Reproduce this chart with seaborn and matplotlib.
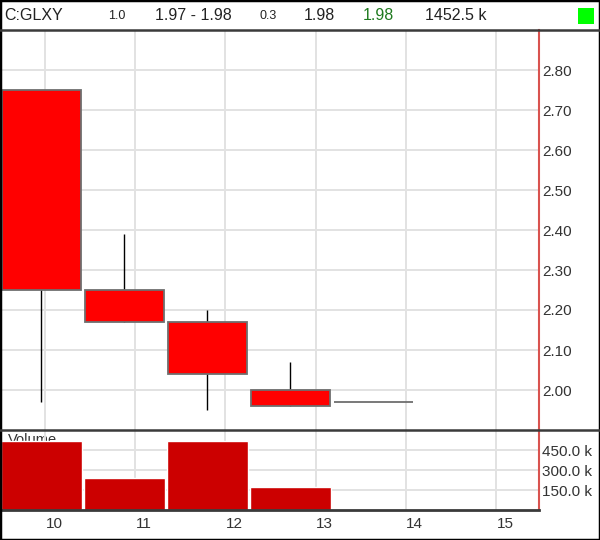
import matplotlib
matplotlib.use('Agg')
import matplotlib.pyplot as plt
import matplotlib.transforms as mtransforms
from matplotlib.lines import Line2D
from matplotlib.patches import Rectangle
from matplotlib.ticker import FuncFormatter
import seaborn as sns
import pandas as pd

# candle positions (day axis) and OHLC / volume values
days = [9.96, 10.88, 11.80, 12.72, 13.64]
opens = [2.75, 2.25, 2.17, 2.00, 1.97]
highs = [2.75, 2.39, 2.20, 2.07, 1.97]
lows = [1.97, 2.17, 1.95, 1.96, 1.97]
closes = [2.25, 2.17, 2.04, 1.96, 1.97]
volumes = [517500, 242000, 517500, 175500, 0]

day_ticks = [10, 11, 12, 13, 14, 15]
price_ticks = [2.00, 2.10, 2.20, 2.30, 2.40, 2.50, 2.60, 2.70, 2.80]
volume_ticks = [150000, 300000, 450000]

ticker = 'C:GLXY'
change = '1.0'
day_range = '1.97 - 1.98'
pct = '0.3'
last = '1.98'
close_val = '1.98'
total_volume = '1452.5 k'

W, H = 600, 540

sns.set_style('whitegrid')
plt.rcParams['font.family'] = ['Liberation Sans', 'DejaVu Sans']

df = pd.DataFrame({'day': days, 'open': opens, 'high': highs, 'low': lows,
                   'close': closes, 'volume': volumes})

fig = plt.figure(figsize=(W / 100, H / 100), dpi=100)
fig.patch.set_facecolor('white')

ax_price = fig.add_axes([1 / W, 1 - 430 / H, 538 / W, 400 / H])
ax_vol = fig.add_axes([1 / W, 1 - 510 / H, 538 / W, 80 / H], sharex=ax_price)

grid_kw = dict(color='#e2e2e2', linewidth=1.4)
for ax in (ax_price, ax_vol):
    ax.set_facecolor('white')
    ax.grid(True, **grid_kw)
    ax.set_axisbelow(True)
    for side in ('left', 'top', 'bottom'):
        ax.spines[side].set_visible(False)
    ax.spines['right'].set_visible(True)
    ax.spines['right'].set_color('#d9534f')
    ax.spines['right'].set_linewidth(1.5)

# candles
body_bottom = df[['open', 'close']].min(axis=1)
body_height = (df['open'] - df['close']).abs()
body_colors = ['#ff0000' if c <= o else '#00c000' for o, c in zip(df['open'], df['close'])]
ax_price.vlines(df['day'], df['low'], df['high'], color='black', linewidth=1, zorder=2)
ax_price.bar(df['day'], body_height, bottom=body_bottom, width=0.876,
             color=body_colors, edgecolor='#6e6e6e', linewidth=1.3, zorder=3)

ax_price.set_ylim(1.90, 2.90)
ax_price.set_yticks(price_ticks)
ax_price.yaxis.tick_right()
ax_price.yaxis.set_major_formatter(FuncFormatter(lambda v, p: f'{v:.2f}'))
ax_price.tick_params(axis='y', length=0, pad=2.5, labelsize=11, labelcolor='#333333')
ax_price.tick_params(axis='x', length=0, labelbottom=False)

# volume
ax_vol.text(7 / 538, 1 - 3 / 80, 'Volume', transform=ax_vol.transAxes, va='top',
            ha='left', fontsize=10.5, color='#333333', zorder=0)
sns.barplot(data=df, x='day', y='volume', native_scale=True, width=0.976,
            color='#cc0000', saturation=1, errorbar=None, ax=ax_vol, zorder=2)
ax_vol.set_xlabel('')
ax_vol.set_ylabel('')
ax_vol.set_ylim(0, 600000)
ax_vol.set_yticks(volume_ticks)
ax_vol.yaxis.tick_right()
ax_vol.yaxis.set_major_formatter(FuncFormatter(lambda v, p: f'{v / 1000:.1f} k'))
ax_vol.tick_params(axis='y', length=0, pad=2.5, labelsize=11, labelcolor='#333333')
ax_vol.spines['bottom'].set_visible(True)
ax_vol.spines['bottom'].set_color('#3a3a3a')
ax_vol.spines['bottom'].set_linewidth(2)

ax_vol.set_xlim(9.512, 15.477)
ax_vol.set_xticks(day_ticks)
ax_vol.set_xticklabels([str(d) for d in day_ticks])
ax_vol.tick_params(axis='x', length=0, pad=5, labelsize=11, labelcolor='#333333')
shift = mtransforms.ScaledTranslation(9 / 100, 0, fig.dpi_scale_trans)
for lab in ax_vol.get_xticklabels():
    lab.set_transform(lab.get_transform() + shift)

# separators and frame
for yp in (30, 430):
    fig.add_artist(Line2D([0, 1], [1 - yp / H] * 2, color='#3a3a3a', linewidth=1.8,
                          transform=fig.transFigure))
fig.add_artist(Rectangle((578 / W, 1 - 24 / H), 16 / W, 16 / H, transform=fig.transFigure,
                         facecolor='#00ff00', edgecolor='none'))
fig.add_artist(Rectangle((0, 0), 1, 1, transform=fig.transFigure, fill=False,
                         edgecolor='black', linewidth=2.5))

# header
yh = 1 - 15 / H
fig.text(4 / W, yh, ticker, fontsize=11.5, color='#222222', va='center')
fig.text(108 / W, yh - 1 / H, change, fontsize=9, color='#222222', va='center')
fig.text(155 / W, yh, day_range, fontsize=11.5, color='#222222', va='center')
fig.text(259 / W, yh - 1 / H, pct, fontsize=9, color='#222222', va='center')
fig.text(304 / W, yh, last, fontsize=11.5, color='#222222', va='center')
fig.text(363 / W, yh, close_val, fontsize=11.5, color='#1f7a1f', va='center')
fig.text(425 / W, yh, total_volume, fontsize=11.5, color='#222222', va='center')

fig.savefig('out.png', dpi=100)
